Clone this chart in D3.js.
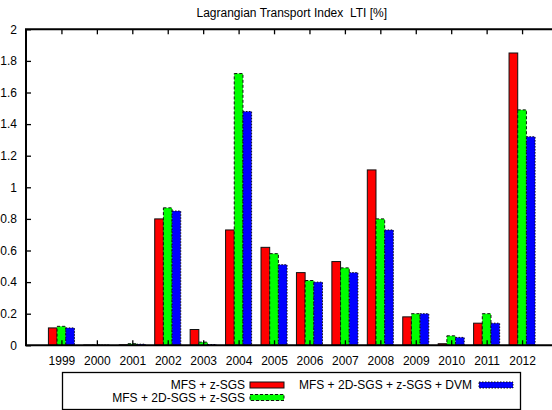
<!DOCTYPE html>
<html><head><meta charset="utf-8">
<script src="https://cdn.jsdelivr.net/npm/d3@7"></script>
<style>
body{margin:0;background:#fff;}
svg{display:block;font-family:"Liberation Sans",Arial,Helvetica,sans-serif;}
</style></head>
<body><svg id="c" width="552" height="410"></svg>
<script>
const years = [1999,2000,2001,2002,2003,2004,2005,2006,2007,2008,2009,2010,2011,2012];
const seriesNames = ["MFS + z-SGS","MFS + 2D-SGS + z-SGS","MFS + 2D-SGS + z-SGS + DVM"];
const mfsZ      = [0.11,0.002,0.003,0.80,0.10,0.73,0.62,0.46,0.53,1.11,0.18,0.01,0.14,1.85];
const mfs2dZ    = [0.12,0.002,0.01,0.87,0.02,1.72,0.58,0.41,0.49,0.80,0.20,0.06,0.20,1.49];
const mfs2dZDvm = [0.11,0.002,0.007,0.85,0.005,1.48,0.51,0.40,0.46,0.73,0.20,0.05,0.14,1.32];
const yTicks = [0,0.2,0.4,0.6,0.8,1,1.2,1.4,1.6,1.8,2];
const titleText = "Lagrangian Transport Index  LTI [%]";

const series = [mfsZ, mfs2dZ, mfs2dZDvm];
const fills = ["#ff0000","#00ff00","#0000ff"];
const dashes = [null,"3,2","1.5,1.5"];

const svg = d3.select("#c");
const L = 26, R = 557.5, T = 29.3, B = 345.3;
const x = d3.scaleLinear().domain([1998,2013]).range([L,R]);
const y = d3.scaleLinear().domain([0,2]).range([B,T]);
const step = x(1999)-x(1998);
const bw = step*0.245;

// title
svg.append("text").attr("x",(L+R)/2).attr("y",17).attr("text-anchor","middle")
  .attr("font-size","12px").style("white-space","pre").text(titleText);

// bars
series.forEach((vals,si)=>{
  svg.append("g").selectAll("rect").data(vals).join("rect")
    .attr("x",(d,i)=>x(years[i]) + (si-1.5)*bw)
    .attr("width",bw)
    .attr("y",d=>y(d))
    .attr("height",d=>B-y(d))
    .attr("fill",fills[si])
    .attr("stroke","#111")
    .attr("stroke-width",1)
    .attr("stroke-dasharray",dashes[si]);
});

// axes
const yAxis = d3.axisLeft(y).tickValues(yTicks).tickSize(-5).tickPadding(9)
  .tickFormat(d=> (d===0||d===1||d===2)? String(d) : d.toFixed(1));
const gy = svg.append("g").attr("transform",`translate(${L},0)`).call(yAxis);
const xAxis = d3.axisBottom(x).tickValues(years).tickSize(-5).tickPadding(11).tickFormat(d3.format("d"));
const gx = svg.append("g").attr("transform",`translate(0,${B})`).call(xAxis);
const xTop = d3.axisTop(x).tickValues(years).tickSize(-5).tickFormat("");
const gt = svg.append("g").attr("transform",`translate(0,${T})`).call(xTop);
[gy,gx,gt].forEach(g=>{
  g.select(".domain").remove();
  g.selectAll(".tick line").attr("stroke","#000").attr("stroke-width",1.3);
  g.selectAll("text").attr("font-size","12px").attr("fill","#000")
    .attr("font-family","'Liberation Sans',Arial,sans-serif");
});
// border
svg.append("path").attr("d",`M${L},${B}H${R}M${L},${B+1}V${T}H${R}`)
  .attr("fill","none").attr("stroke","#000").attr("stroke-width",2);

// legend
const lg = svg.append("g");
lg.append("rect").attr("x",62.5).attr("y",372.5).attr("width",458).attr("height",37)
  .attr("fill","#fff").attr("stroke","#000").attr("stroke-width",1.3);
const legendPos = [
  {tx:245, sx:250, sy:385},
  {tx:245, sx:250, sy:397.5},
  {tx:472, sx:479, sy:385}
];
legendPos.forEach((p,i)=>{
  lg.append("text").attr("x",p.tx).attr("y",p.sy+4).attr("text-anchor","end")
    .attr("font-size","12px").text(seriesNames[i]);
  lg.append("rect").attr("x",p.sx).attr("y",p.sy-3).attr("width",34).attr("height",6)
    .attr("fill",fills[i]).attr("stroke","#111").attr("stroke-width",1)
    .attr("stroke-dasharray",dashes[i]);
});
</script></body></html>
